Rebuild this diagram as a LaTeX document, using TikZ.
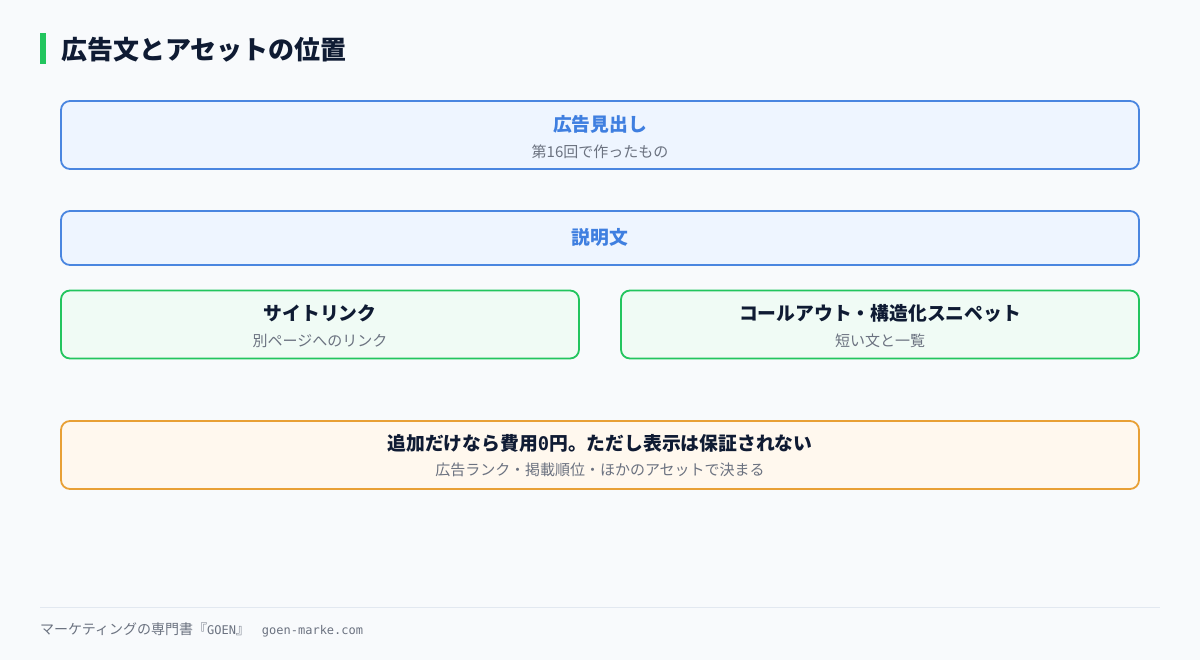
\documentclass[tikz,border=0pt]{standalone}
\usepackage{fontspec}
\setmainfont{Noto Sans CJK JP}
\newfontfamily\monofont{DejaVu Sans Mono}
\definecolor{bgcol}{HTML}{F8FAFC}
\definecolor{navy}{HTML}{0F1B33}
\definecolor{greybody}{HTML}{6B7280}
\definecolor{blueline}{HTML}{4A86E0}
\definecolor{bluefill}{HTML}{EEF5FF}
\definecolor{bluetext}{HTML}{3F7FE0}
\definecolor{greenline}{HTML}{22C55E}
\definecolor{greenfill}{HTML}{F0FBF5}
\definecolor{orangeline}{HTML}{E8A035}
\definecolor{orangefill}{HTML}{FFF8EE}
\definecolor{footline}{HTML}{E2E8F0}
\begin{document}
\begin{tikzpicture}[x=1pt,y=-1pt,
  box/.style={rounded corners=9pt,line width=1.8pt,inner sep=0pt,minimum height=68pt},
  bluebox/.style={box,draw=blueline,fill=bluefill},
  greenbox/.style={box,draw=greenline,fill=greenfill},
  orangebox/.style={box,draw=orangeline,fill=orangefill},
  head/.style={font=\bfseries\fontsize{18.8}{21}\selectfont,text=navy,inner sep=0pt},
  sub/.style={font=\fontsize{15}{17}\selectfont,text=greybody,inner sep=0pt}]

  \fill[bgcol] (0,0) rectangle (1200,660);
  \useasboundingbox (0,0) rectangle (1200,660);

  % title
  \fill[greenline] (40,33) rectangle (46,64);
  \node[anchor=west,inner sep=0pt,text=navy,font=\bfseries\fontsize{26}{29}\selectfont] (title) at (61,50) {広告文とアセットの位置};

  % boxes
  \node[bluebox,minimum width=1078pt] (headline) at (600,135) {};
  \node[head,text=bluetext] (headlinet) at (600,124) {広告見出し};
  \node[sub] (headlines) at (600,152) {第16回で作ったもの};

  \node[bluebox,minimum width=1078pt,minimum height=54pt] (desc) at (600,238) {};
  \node[head,text=bluetext] (desct) at (600,237) {説明文};

  \node[greenbox,minimum width=518pt] (site) at (320,324.5) {};
  \node[head] (sitet) at (320,313) {サイトリンク};
  \node[sub] (sites) at (320,341) {別ページへのリンク};

  \node[greenbox,minimum width=518pt] (call) at (880,324.5) {};
  \node[head] (callt) at (880,313) {コールアウト・構造化スニペット};
  \node[sub] (calls) at (880,341) {短い文と一覧};

  \node[orangebox,minimum width=1078pt] (note) at (600,455) {};
  \node[head] (notet) at (600,443) {追加だけなら費用{\monofont 0}円。ただし表示は保証されない};
  \node[sub] (notes) at (600,470) {広告ランク・掲載順位・ほかのアセットで決まる};

  % footer
  \draw[footline,line width=1pt] (40,607) -- (1160,607);
  \node[anchor=west,inner sep=0pt,text=greybody,font=\fontsize{14}{16}\selectfont] (foot) at (40,630) {マーケティングの専門書『{\monofont\fontsize{12}{14}\selectfont GOEN}』\hspace{12pt}{\monofont\fontsize{12}{14}\selectfont goen-marke.com}};
\end{tikzpicture}
\end{document}
